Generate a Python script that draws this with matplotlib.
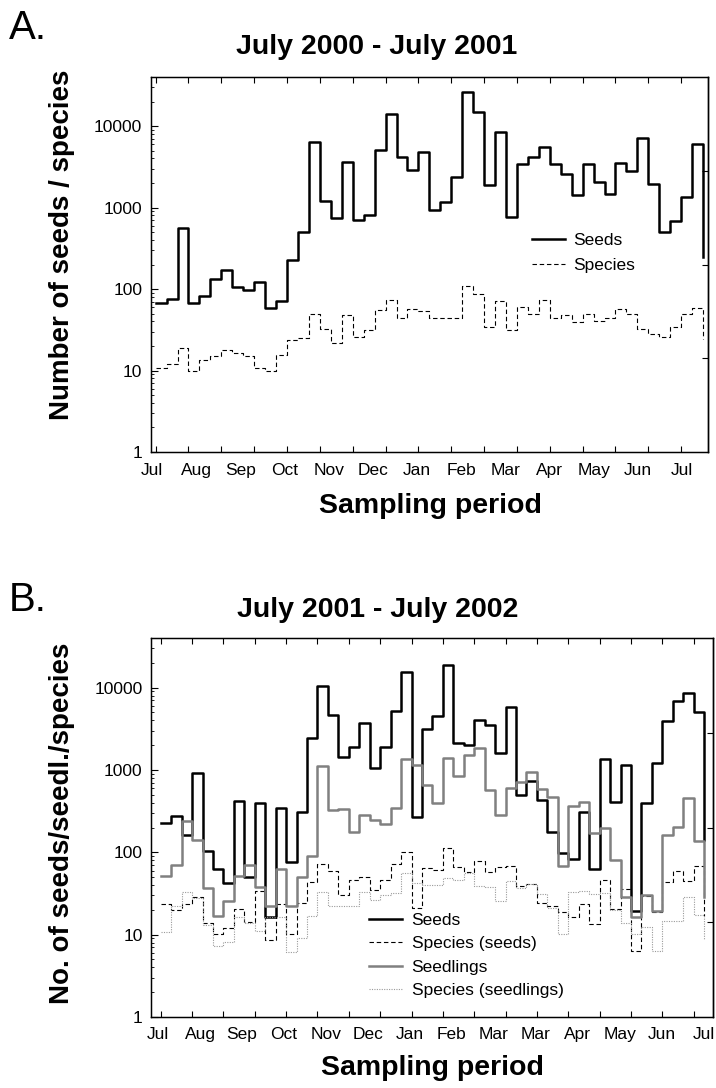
import matplotlib
matplotlib.use("Agg")
import matplotlib.pyplot as plt
from matplotlib.ticker import LogLocator, FixedLocator, NullFormatter
import numpy as np

plt.rcParams["font.family"] = ["Liberation Sans", "DejaVu Sans"]

# panel A: July 2000 - July 2001
months_a = ["Jul", "Aug", "Sep", "Oct", "Nov", "Dec", "Jan",
            "Feb", "Mar", "Apr", "May", "Jun", "Jul"]
seeds_a = [68, 75, 568, 68, 83, 132, 173, 106, 96, 122,
           59, 71, 225, 497, 6400, 1208, 747, 3640, 698, 805,
           5020, 14060, 4120, 2880, 4830, 927, 1175, 2380, 26400, 14700,
           1885, 8510, 767, 3380, 4200, 5470, 3410, 2550, 1430, 3440,
           2070, 1486, 3570, 2800, 7110, 1920, 502, 686, 1352, 5960, 247]
species_a = [10.7, 12.1, 19, 9.8, 13.5, 15, 17.8, 16.5, 15, 10.8,
             9.8, 15.7, 23.4, 25, 48.9, 31.9, 21.7, 48.3, 25.5, 31,
             54.7, 74, 44.5, 57.3, 53, 44, 44, 44, 108, 87.7,
             34, 71, 31.6, 61, 49, 74, 44.5, 47.5, 39, 49.8,
             41, 44.5, 57, 49.8, 32.5, 28.2, 25.7, 34, 49.8, 59, 24.5]

# panel B: July 2001 - July 2002
months_b = ["Jul", "Aug", "Sep", "Oct", "Nov", "Dec", "Jan",
            "Feb", "Mar", "Mar", "Apr", "May", "Jun", "Jul"]
seeds_b = [230, 276, 161, 908, 105, 62, 42, 424, 50, 401,
           16.4, 342, 76, 312, 2410, 10370, 4610, 1420, 1875, 3730,
           1064, 1910, 5210, 15600, 266, 3100, 4490, 18600, 2150, 2000,
           4090, 3490, 1616, 5820, 497, 740, 431, 175, 99, 83,
           306, 62, 1343, 405, 1145, 19.5, 393, 1200, 3910, 6820,
           8690, 5070, 142]
species_seeds_b = [23.7, 19.7, 23.7, 29, 14, 10.3, 11.9, 20.7, 14.1, 34,
                   8.7, 23.7, 10.3, 23.9, 43, 72, 60, 30.5, 45.5, 50,
                   35, 46, 72, 102, 21, 65, 61, 112, 66, 57.5,
                   79, 57.5, 66, 68.5, 38.5, 41, 24.2, 22, 18.6, 16.4,
                   23.7, 13.5, 45.5, 20.5, 35.5, 6.3, 29.6, 19.1, 43, 60,
                   45, 69, 17]
seedlings_b = [51, 70, 240, 142, 37, 17, 25.8, 52, 70, 37.7,
               22.4, 63, 22.4, 50, 91, 1114, 327, 336, 178, 284,
               247, 221, 342, 1343, 1145, 650, 393, 1380, 850, 1515,
               1825, 571, 284, 597, 719, 933, 581, 473, 69, 368,
               412, 170, 200, 81, 29, 16.4, 30, 19.5, 160, 205,
               452, 139, 29]
species_seedl_b = [10.9, 22, 32.5, 27.8, 13, 7.2, 8.1, 16.4, 13.8, 11.2,
                   16.4, 16.6, 6.2, 9.1, 17, 33.4, 22.4, 22.4, 22.4, 33.4,
                   26, 30, 32, 55.8, 42, 40, 40, 48.6, 46, 56,
                   39.5, 37.8, 25.3, 45, 36.8, 41.5, 31.4, 21, 10.3, 33.4,
                   34, 31, 32, 20, 13.9, 10.2, 12.4, 6.3, 14.5, 14.5,
                   28.5, 17.5, 8.7]

W, H = 716, 1088


def fx(px):
    return px / W


def fy(py):
    return 1 - py / H


def setup_axis(ax, n, xlim, months, month_span, pad):
    ax.set_yscale("log")
    ax.set_ylim(1, 40000)
    ax.set_xlim(*xlim)
    ax.set_yticks([1, 10, 100, 1000, 10000])
    ax.set_yticklabels(["1", "10", "100", "1000", "10000"])
    ax.yaxis.set_minor_locator(LogLocator(base=10, subs=np.arange(2, 10)))
    ax.yaxis.set_minor_formatter(NullFormatter())
    ax.xaxis.remove_overlapping_locs = False
    ax.xaxis.set_major_locator(FixedLocator(np.arange(0, n, 3)))
    ax.xaxis.set_major_formatter(NullFormatter())
    pos = np.linspace(month_span[0], month_span[1], len(months))
    ax.set_xticks(pos, minor=True)
    ax.set_xticklabels(months, minor=True)
    ax.tick_params(axis="x", which="major", direction="in", length=4,
                   top=True, bottom=True, width=0.8)
    ax.tick_params(axis="x", which="minor", length=0, pad=pad,
                   labelsize=12.5, top=False)
    ax.tick_params(axis="y", which="major", direction="in", length=5,
                   width=0.8, right=False, pad=6, labelsize=12.5)
    ax.tick_params(axis="y", which="minor", direction="in", length=2.5,
                   width=0.6, right=False)
    for sp in ax.spines.values():
        sp.set_linewidth(1.0)
    # right-hand ticks split the frame in quarters
    ax2 = ax.twinx()
    ax2.set_ylim(0, 4)
    ax2.set_yticks([1, 2, 3])
    ax2.tick_params(axis="y", direction="in", length=4, width=0.8,
                    labelright=False)
    ax2.spines["right"].set_linewidth(1.0)


fig = plt.figure(figsize=(W / 100, H / 100), dpi=100)

# ---- panel A
axa = fig.add_axes([fx(150.5), fy(452), fx(708) - fx(150.5), fy(77) - fy(452)])
xa = np.arange(len(seeds_a))
axa.step(xa, seeds_a, where="post", color="black", lw=1.8, label="Seeds")
axa.step(xa, species_a, where="post", color="black", lw=0.8,
         dashes=(4, 2.5), label="Species")
setup_axis(axa, len(seeds_a), (-0.47, 50.45), months_a, (-0.3, 48.1), 8)
axa.legend(loc="upper left", bbox_to_anchor=(fx(532), fy(233)),
           bbox_transform=fig.transFigure, frameon=False, fontsize=12.5,
           handlelength=1.9, handletextpad=0.5, labelspacing=0.55,
           borderpad=0, borderaxespad=0)

fig.text(fx(9), fy(28), "A.", fontsize=29, ha="left", va="center")
fig.text(fx(377), fy(47), "July 2000 - July 2001", fontsize=20.5,
         fontweight="bold", ha="center", va="center")
fig.text(fx(62), fy(245), "Number of seeds / species", fontsize=20,
         fontweight="bold", rotation=90, ha="center", va="center")
fig.text(fx(430), fy(506), "Sampling period", fontsize=20.5,
         fontweight="bold", ha="center", va="center")

# ---- panel B
axb = fig.add_axes([fx(151), fy(1017), fx(713) - fx(151), fy(638) - fy(1017)])
xb = np.arange(len(seeds_b))
axb.step(xb, seeds_b, where="post", color="black", lw=1.8, label="Seeds")
axb.step(xb, species_seeds_b, where="post", color="black", lw=0.8,
         dashes=(4, 2.5), label="Species (seeds)")
axb.step(xb, seedlings_b, where="post", color="#808080", lw=1.8,
         label="Seedlings")
axb.step(xb, species_seedl_b, where="post", color="#9a9a9a", lw=0.8,
         dashes=(1, 1.2), label="Species (seedlings)")
setup_axis(axb, len(seeds_b), (-0.93, 52.85), months_b, (-0.26, 51.97), 7)
axb.legend(loc="upper left", bbox_to_anchor=(fx(369), fy(913)),
           bbox_transform=fig.transFigure, frameon=False, fontsize=12.5,
           handlelength=1.9, handletextpad=0.55, labelspacing=0.47,
           borderpad=0, borderaxespad=0)

fig.text(fx(9), fy(600), "B.", fontsize=29, ha="left", va="center")
fig.text(fx(378), fy(610), "July 2001 - July 2002", fontsize=20.5,
         fontweight="bold", ha="center", va="center")
fig.text(fx(62), fy(823), "No. of seeds/seedl./species", fontsize=20,
         fontweight="bold", rotation=90, ha="center", va="center")
fig.text(fx(432), fy(1068), "Sampling period", fontsize=20.5,
         fontweight="bold", ha="center", va="center")

fig.savefig("out.png", dpi=100)
